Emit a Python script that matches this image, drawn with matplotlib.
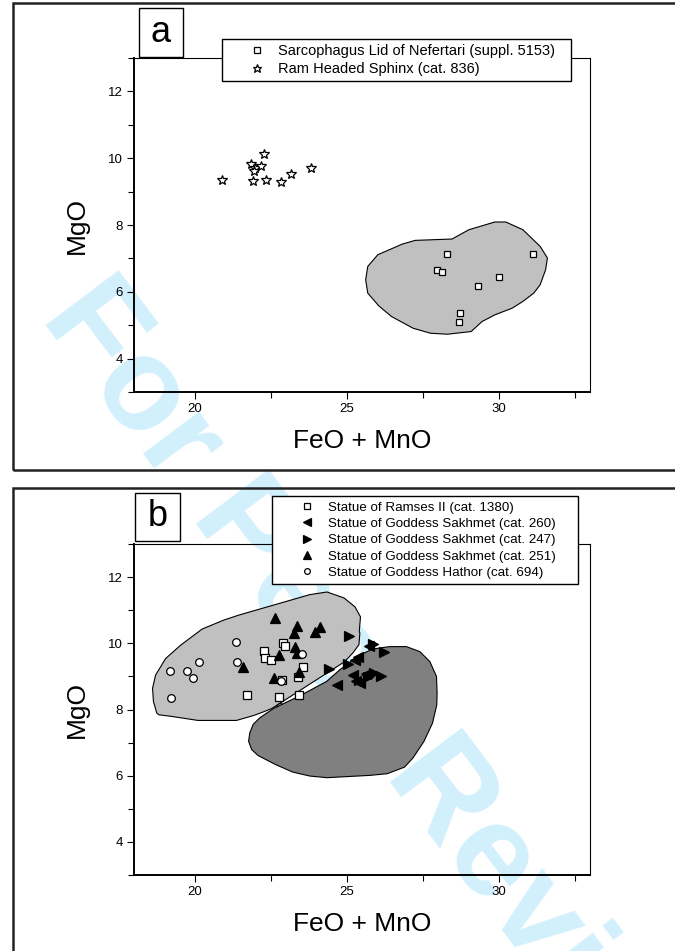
import numpy as np
import matplotlib
matplotlib.use("Agg")
import matplotlib.pyplot as plt
from matplotlib.ticker import MultipleLocator
from matplotlib.patches import Rectangle

plt.rcParams['font.family'] = ['Liberation Sans', 'DejaVu Sans']

# -------------------------------------------------------
# Данные (панель a)
# -------------------------------------------------------
nef_x = [28.31, 27.97, 28.13, 29.33, 30.00, 31.13, 28.71, 28.68]
nef_y = [7.13, 6.64, 6.58, 6.16, 6.45, 7.13, 5.36, 5.10]

sph_x = [20.91, 22.29, 21.86, 21.97, 21.94, 22.17, 21.93, 22.34, 22.82, 23.16, 23.82]
sph_y = [9.36, 10.13, 9.83, 9.71, 9.61, 9.77, 9.33, 9.36, 9.29, 9.54, 9.70]

field_a_x = [26.02, 26.83, 27.25, 28.46, 29.02, 29.87, 30.23, 30.79, 31.36, 31.60,
             31.54, 31.36, 31.15, 30.79, 30.44, 29.87, 29.45, 29.09, 28.31, 27.75,
             27.18, 26.47, 26.05, 25.69, 25.62, 25.69]
field_a_y = [7.11, 7.43, 7.54, 7.58, 7.86, 8.09, 8.09, 7.86, 7.36, 7.01,
             6.66, 6.21, 5.96, 5.71, 5.51, 5.31, 5.11, 4.81, 4.73, 4.76,
             4.91, 5.26, 5.58, 5.96, 6.36, 6.76]

# -------------------------------------------------------
# Данные (панель b)
# -------------------------------------------------------
ram_x = [22.28, 22.31, 22.50, 22.91, 22.96, 23.55, 23.39, 22.77, 23.43, 21.71, 22.87]
ram_y = [9.77, 9.55, 9.50, 10.00, 9.92, 9.27, 8.97, 8.38, 8.43, 8.43, 8.90]

sak260_x = [24.69, 25.20, 25.30, 25.63, 25.72, 25.26, 25.38, 25.45]
sak260_y = [8.75, 9.05, 8.85, 9.08, 9.92, 9.50, 9.60, 8.80]

sak247_x = [24.43, 25.07, 25.04, 25.85, 26.21, 25.69, 26.12, 25.90, 25.40]
sak247_y = [9.23, 10.23, 9.38, 9.97, 9.75, 8.98, 9.00, 9.10, 8.90]

sak251_x = [22.65, 23.37, 23.26, 24.11, 23.94, 23.30, 23.35, 22.77, 23.43, 22.59, 21.60]
sak251_y = [10.76, 10.53, 10.31, 10.48, 10.35, 9.88, 9.70, 9.65, 9.14, 8.95, 9.27]

hat_x = [21.34, 21.39, 20.14, 19.18, 19.74, 19.95, 19.21, 23.53, 22.82, 22.80]
hat_y = [10.05, 9.45, 9.44, 9.16, 9.16, 8.95, 8.34, 9.68, 8.87, 8.08]

light_x = [18.75, 18.64, 18.61, 18.71, 19.04, 19.53, 20.24, 20.95, 21.44, 22.65,
           23.78, 24.35, 24.91, 25.27, 25.45, 25.41, 25.43, 25.40, 25.20, 24.93,
           24.77, 23.50, 22.53, 22.29, 21.94, 21.37, 20.10, 19.25, 18.82]
light_y = [7.89, 8.24, 8.64, 9.04, 9.54, 9.94, 10.43, 10.70, 10.85, 11.17,
           11.47, 11.55, 11.37, 11.10, 10.80, 10.35, 10.31, 9.96, 9.71, 9.45,
           9.35, 8.60, 8.03, 7.94, 7.82, 7.67, 7.67, 7.79, 7.84]

dark_x = [22.59, 23.47, 24.34, 24.77, 25.43, 25.87, 26.41, 26.96, 27.40, 27.73,
          27.95, 27.97, 27.96, 27.82, 27.54, 27.18, 26.90, 26.33, 25.76, 24.35,
          23.78, 23.22, 22.65, 22.08, 21.87, 21.77, 21.81, 21.92, 22.14]
dark_y = [8.03, 8.42, 8.85, 9.20, 9.65, 9.83, 9.90, 9.90, 9.75, 9.45,
          9.00, 8.50, 8.14, 7.59, 7.04, 6.54, 6.26, 6.06, 6.01, 5.94,
          5.99, 6.11, 6.34, 6.61, 6.79, 7.04, 7.30, 7.55, 7.75]

# -------------------------------------------------------
# Фигура
# -------------------------------------------------------
W, H = 675, 951
fig = plt.figure(figsize=(W / 100, H / 100), dpi=100)


def fx(px):
    return px / W


def fy(py):
    return 1 - py / H


# водяной знак
fig.text(fx(376), fy(707), 'For Peer Review', rotation=-53, fontsize=95,
         weight='bold', color='#d2f0fc', ha='center', va='center',
         rotation_mode='anchor', zorder=-5)

# рамки панелей
for y0, y1 in [(3, 470), (488, 960)]:
    fig.patches.append(Rectangle((fx(13), fy(y1)), fx(700) - fx(13), fy(y0) - fy(y1),
                                 transform=fig.transFigure, fill=False,
                                 edgecolor='#222222', linewidth=1.8, zorder=-4))


def style_axes(ax):
    ax.set_facecolor('none')
    ax.set_xlim(18, 33)
    ax.set_ylim(3, 13)
    ax.xaxis.set_major_locator(MultipleLocator(5))
    ax.xaxis.set_minor_locator(MultipleLocator(2.5))
    ax.yaxis.set_major_locator(MultipleLocator(2))
    ax.yaxis.set_minor_locator(MultipleLocator(1))
    ax.tick_params(which='both', direction='out', labelsize=9.5, width=0.8,
                   top=False, right=False)
    ax.tick_params(which='major', length=5, pad=3)
    ax.tick_params(which='minor', length=4)
    for s in ['left', 'bottom']:
        ax.spines[s].set_linewidth(1.4)
    for s in ['top', 'right']:
        ax.spines[s].set_linewidth(0.8)
    ax.set_xlabel('FeO + MnO', fontsize=19, labelpad=10)
    ax.set_ylabel('MgO', fontsize=19, labelpad=14)


def letter_box(label, x0, y0, x1, y1):
    fig.patches.append(Rectangle((fx(x0), fy(y1)), fx(x1) - fx(x0), fy(y0) - fy(y1),
                                 transform=fig.transFigure, facecolor='white',
                                 edgecolor='black', linewidth=1.0, zorder=5))
    fig.text(fx((x0 + x1) / 2), fy((y0 + y1) / 2), label, fontsize=26,
             ha='center', va='center', zorder=6)


mk = dict(linestyle='none', markeredgecolor='black', markeredgewidth=0.9)

# ---------------- панель a ----------------
ax1 = fig.add_axes([fx(134), fy(392), fx(590) - fx(134), fy(58) - fy(392)])
style_axes(ax1)
ax1.fill(field_a_x, field_a_y, facecolor='#c0c0c0', edgecolor='black', linewidth=0.8, zorder=1)
ax1.plot(nef_x, nef_y, marker='s', markersize=5, markerfacecolor='white',
         label='Sarcophagus Lid of Nefertari (suppl. 5153)', zorder=3, **mk)
ax1.plot(sph_x, sph_y, marker='*', markersize=7.5, markerfacecolor='white',
         label='Ram Headed Sphinx (cat. 836)', zorder=3, **mk)
leg1 = ax1.legend(loc='upper left', mode='expand',
                  bbox_to_anchor=(fx(222), fy(80), fx(571) - fx(222), fy(39) - fy(80)),
                  bbox_transform=fig.transFigure, borderaxespad=0, fancybox=False,
                  edgecolor='black', framealpha=1, fontsize=10.5, numpoints=1,
                  handlelength=4.15, handletextpad=-0.67, borderpad=0.35,
                  labelspacing=0.25, markerscale=0.85)
leg1.get_frame().set_linewidth(1.0)
leg1.set_zorder(10)
letter_box('a', 139, 8, 183, 57)

# ---------------- панель b ----------------
ax2 = fig.add_axes([fx(134), fy(875), fx(590) - fx(134), fy(544) - fy(875)])
style_axes(ax2)
ax2.fill(light_x, light_y, facecolor='#c0c0c0', edgecolor='black', linewidth=0.8, zorder=1)
ax2.plot(hat_x[-1:], hat_y[-1:], marker='o', markersize=5.5, markerfacecolor='white',
         zorder=1.5, **mk)
ax2.fill(dark_x, dark_y, facecolor='#808080', edgecolor='black', linewidth=0.8, zorder=2)
ax2.plot(ram_x, ram_y, marker='s', markersize=6, markerfacecolor='white',
         label='Statue of Ramses II (cat. 1380)', zorder=3, **mk)
ax2.plot(sak260_x, sak260_y, marker='<', markersize=7.5, markerfacecolor='black',
         label='Statue of Goddess Sakhmet (cat. 260)', zorder=3, **mk)
ax2.plot(sak247_x, sak247_y, marker='>', markersize=7.5, markerfacecolor='black',
         label='Statue of Goddess Sakhmet (cat. 247)', zorder=3, **mk)
ax2.plot(sak251_x, sak251_y, marker='^', markersize=7.5, markerfacecolor='black',
         label='Statue of Goddess Sakhmet (cat. 251)', zorder=3, **mk)
ax2.plot(hat_x[:-1], hat_y[:-1], marker='o', markersize=5.5, markerfacecolor='white',
         label='Statue of Goddess Hathor (cat. 694)', zorder=3, **mk)
leg2 = ax2.legend(loc='upper left', mode='expand',
                  bbox_to_anchor=(fx(272), fy(588), fx(578) - fx(272), fy(496) - fy(588)),
                  bbox_transform=fig.transFigure, borderaxespad=0, fancybox=False,
                  edgecolor='black', framealpha=1, fontsize=9.6, numpoints=1,
                  handlelength=4.5, handletextpad=-0.68, borderpad=0.4,
                  labelspacing=0.3, markerscale=0.75)
leg2.get_frame().set_linewidth(1.0)
leg2.set_zorder(10)
letter_box('b', 135, 493, 180, 541)

fig.savefig('out.png', dpi=100)
